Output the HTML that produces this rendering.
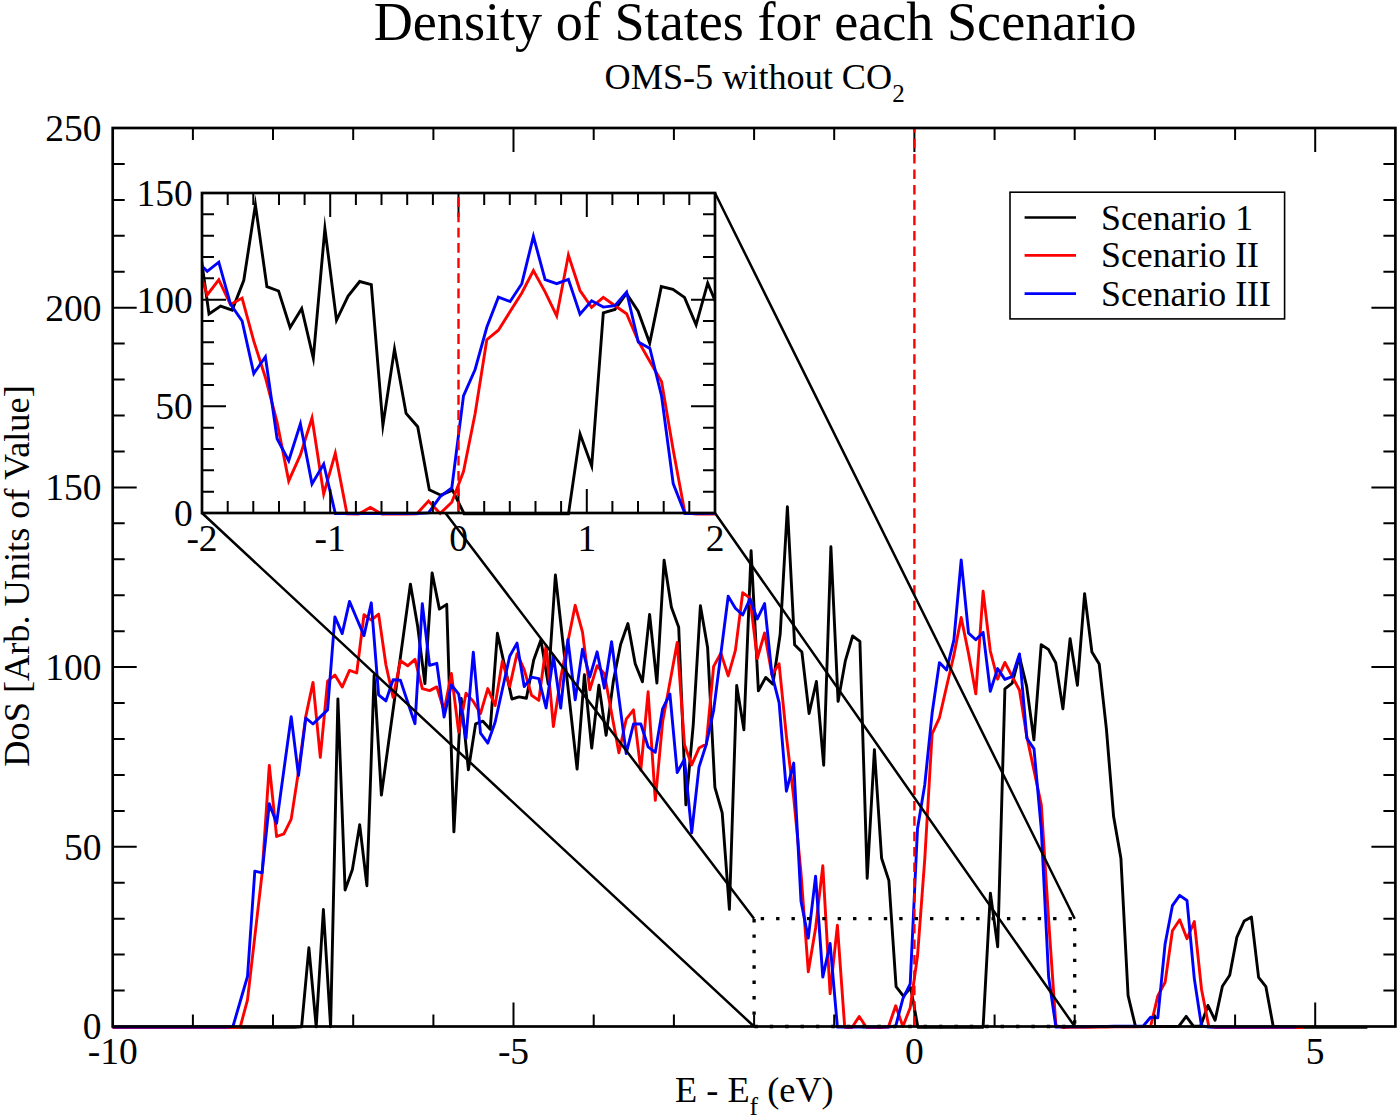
<!DOCTYPE html><html><head><meta charset="utf-8"><style>html,body{margin:0;padding:0;background:#fff;}</style></head><body><svg width="1400" height="1118" viewBox="0 0 1400 1118" style="display:block">
<defs>
<clipPath id="cm"><rect x="112.7" y="128.0" width="1282.7" height="901.5"/></clipPath>
<clipPath id="ci"><rect x="202.0" y="193.0" width="513.0" height="323.0"/></clipPath>
</defs>
<rect width="1400" height="1118" fill="#fff"/>
<polyline points="69.6,1027.2 76.9,1027.2 84.2,1027.2 91.4,1027.2 98.6,1027.2 105.9,1027.2 113.1,1027.2 120.4,1027.2 127.7,1027.2 134.9,1027.2 142.2,1027.2 149.4,1027.2 156.6,1027.2 163.9,1027.2 171.2,1027.2 178.4,1027.2 185.7,1027.2 192.9,1027.2 200.1,1027.2 207.4,1027.2 214.7,1027.2 221.9,1027.2 229.2,1027.2 236.4,1027.2 243.6,1027.2 250.9,1027.2 258.2,1027.2 265.4,1027.2 272.7,1027.2 279.9,1027.2 287.1,1027.2 294.4,1027.2 301.6,1026.8 308.9,947.8 316.2,1026.8 323.4,909.5 330.6,1026.8 337.9,698.9 345.1,890.0 352.4,869.6 359.7,824.8 366.9,885.7 374.1,675.2 381.4,795.1 388.6,742.4 395.9,689.7 403.2,636.9 410.4,584.1 417.7,626.6 424.9,683.6 432.1,572.9 439.4,609.1 446.7,604.4 453.9,831.9 461.2,698.4 468.4,769.9 475.6,723.9 482.9,721.2 490.2,729.3 497.4,633.3 504.7,666.1 511.9,699.0 519.1,696.9 526.4,698.2 533.7,660.0 540.9,639.9 548.2,684.0 555.4,575.0 562.6,639.7 569.9,704.4 577.1,769.1 584.4,674.8 591.7,748.0 598.9,685.1 606.1,735.4 613.4,680.8 620.6,644.5 627.9,623.5 635.2,663.7 642.4,681.8 649.6,614.4 656.9,683.0 664.1,560.2 671.4,607.2 678.7,627.3 685.9,804.9 693.2,725.3 700.4,605.8 707.6,647.4 714.9,787.4 722.2,812.9 729.4,909.4 736.7,685.4 743.9,729.7 751.1,550.8 758.4,690.8 765.7,677.4 772.9,684.1 780.2,634.0 787.4,506.8 794.6,644.7 801.9,652.1 809.1,713.5 816.4,681.5 823.7,765.2 830.9,546.8 838.1,701.4 845.4,660.6 852.6,636.0 859.9,641.3 867.2,878.4 874.4,749.7 881.6,858.3 888.9,880.6 896.1,986.7 903.4,996.1 910.7,987.7 917.9,1027.2 925.1,1027.2 932.4,1027.2 939.6,1027.2 946.9,1027.2 954.2,1027.2 961.4,1027.2 968.7,1027.2 975.9,1027.2 983.1,1027.2 990.4,893.1 997.7,946.8 1004.9,688.9 1012.2,683.1 1019.4,656.3 1026.6,686.1 1033.9,739.8 1041.2,644.7 1048.4,649.4 1055.7,662.8 1062.9,708.9 1070.1,638.7 1077.4,685.2 1084.6,593.6 1091.9,652.0 1099.2,664.0 1106.4,728.9 1113.6,816.6 1120.9,858.3 1128.1,995.6 1135.4,1026.2 1142.7,1026.5 1149.9,1026.5 1157.1,1026.5 1164.4,1026.5 1171.6,1026.5 1178.9,1026.2 1186.2,1016.4 1193.4,1026.2 1200.6,1026.2 1207.9,1005.4 1215.1,1020.3 1222.4,986.3 1229.7,975.3 1236.9,937.1 1244.2,921.0 1251.4,916.9 1258.6,977.3 1265.9,986.7 1273.2,1026.3 1280.4,1027.2 1287.7,1027.2 1294.9,1027.2 1302.1,1027.2 1309.4,1027.2 1316.7,1027.2 1323.9,1027.2 1331.2,1027.2 1338.4,1027.2 1345.6,1027.2 1352.9,1027.2 1360.1,1027.2 1367.4,1027.2" fill="none" stroke="#000" stroke-width="2.9" stroke-linejoin="round" clip-path="url(#cm)"/>
<polyline points="65.4,1027.5 72.7,1027.5 80.0,1027.5 87.3,1027.5 94.6,1027.5 101.8,1027.5 109.1,1027.5 116.4,1027.5 123.7,1027.5 131.0,1027.5 138.2,1027.5 145.5,1027.5 152.8,1027.5 160.1,1027.5 167.4,1027.5 174.7,1027.5 181.9,1027.5 189.2,1027.5 196.5,1027.5 203.8,1027.5 211.1,1027.5 218.4,1027.5 225.6,1027.5 232.9,1027.5 240.2,1027.1 247.5,999.9 254.8,936.6 262.1,873.3 269.3,765.4 276.6,836.5 283.9,833.8 291.2,819.1 298.5,771.4 305.8,716.4 313.0,682.4 320.3,757.3 327.6,681.1 334.9,675.0 342.2,687.1 349.5,670.4 356.7,673.0 364.0,614.7 371.3,620.1 378.6,614.1 385.9,664.8 393.1,697.4 400.4,660.8 407.7,665.8 415.0,659.4 422.3,688.6 429.6,690.6 436.8,686.9 444.1,710.8 451.4,673.5 458.7,732.2 466.0,693.3 473.3,701.4 480.5,713.5 487.8,688.6 495.1,705.4 502.4,661.1 509.7,686.6 517.0,653.7 524.2,669.7 531.5,695.2 538.8,700.4 546.1,645.5 553.4,726.5 560.7,677.7 567.9,641.5 575.2,605.3 582.5,632.1 589.8,689.8 597.1,665.7 604.4,673.7 611.6,713.2 618.9,752.7 626.2,719.2 633.5,709.9 640.8,770.2 648.1,691.8 655.3,800.4 662.6,722.0 669.9,682.5 677.2,642.4 684.5,744.8 691.7,764.9 699.0,748.1 706.3,744.1 713.6,666.5 720.9,653.1 728.2,675.9 735.4,650.4 742.7,592.7 750.0,598.1 757.3,658.5 764.6,633.0 771.9,674.6 779.1,663.8 786.4,736.4 793.7,797.5 801.0,873.0 808.3,971.8 815.6,927.9 822.8,865.8 830.1,993.7 837.4,925.3 844.7,1027.2 852.0,1027.5 859.2,1016.5 866.5,1027.5 873.8,1027.5 881.1,1027.5 888.4,1027.0 895.7,1005.8 902.9,1026.6 910.2,1007.7 917.5,956.1 924.8,858.6 932.1,733.9 939.4,717.8 946.6,686.5 953.9,655.2 961.2,617.5 968.5,653.4 975.8,693.8 983.1,591.3 990.3,651.0 997.6,679.2 1004.9,662.4 1012.2,676.5 1019.5,690.2 1026.8,736.4 1034.0,770.5 1041.3,804.7 1048.6,919.7 1055.9,1025.7 1063.2,1027.5 1070.5,1027.4 1077.7,1027.3 1085.0,1027.2 1092.3,1027.2 1099.6,1027.1 1106.9,1027.0 1114.1,1026.9 1121.4,1026.8 1128.7,1026.7 1136.0,1026.7 1143.3,1026.6 1150.6,1026.5 1157.8,995.9 1165.1,982.2 1172.4,930.7 1179.7,919.8 1187.0,938.7 1194.3,921.5 1201.5,989.2 1208.8,1026.5 1216.1,1027.5 1223.4,1027.5 1230.7,1027.5 1238.0,1027.5 1245.2,1027.5 1252.5,1027.5 1259.8,1027.5 1267.1,1027.5 1274.4,1027.5 1281.6,1027.5 1288.9,1027.5 1296.2,1027.5 1303.5,1027.5" fill="none" stroke="#f00" stroke-width="2.9" stroke-linejoin="round" clip-path="url(#cm)"/>
<polyline points="65.4,1027.0 72.7,1027.0 80.0,1027.0 87.3,1027.0 94.6,1027.0 101.8,1027.0 109.1,1027.0 116.4,1027.0 123.7,1027.0 131.0,1027.0 138.2,1027.0 145.5,1027.0 152.8,1027.0 160.1,1027.0 167.4,1027.0 174.7,1027.0 181.9,1027.0 189.2,1027.0 196.5,1027.0 203.8,1027.0 211.1,1027.0 218.4,1027.0 225.6,1027.0 232.9,1026.6 240.2,1001.5 247.5,976.5 254.8,871.1 262.1,872.8 269.3,803.8 276.6,823.3 283.9,769.9 291.2,716.6 298.5,775.6 305.8,718.0 313.0,724.0 320.3,716.9 327.6,709.9 334.9,616.9 342.2,633.6 349.5,601.4 356.7,618.5 364.0,635.6 371.3,602.8 378.6,694.8 385.9,700.9 393.1,679.7 400.4,680.1 407.7,702.2 415.0,723.7 422.3,603.6 429.6,665.3 436.8,663.3 444.1,717.0 451.4,684.8 458.7,694.2 466.0,738.4 473.3,652.2 480.5,733.1 487.8,743.1 495.1,722.3 502.4,689.3 509.7,656.2 517.0,643.1 524.2,686.6 531.5,677.2 538.8,678.6 546.1,708.0 553.4,655.8 560.7,708.0 567.9,639.7 575.2,699.9 582.5,649.1 589.8,677.2 597.1,651.8 604.4,688.1 611.6,641.8 618.9,697.6 626.2,753.6 633.5,724.0 640.8,724.0 648.1,746.8 655.3,752.3 662.6,708.8 669.9,694.0 677.2,772.5 684.5,759.1 691.7,832.7 699.0,767.1 706.3,744.3 713.6,710.8 720.9,653.5 728.2,596.3 735.4,608.3 742.7,615.0 750.0,598.9 757.3,619.0 764.6,603.6 771.9,674.3 779.1,702.7 786.4,791.2 793.7,763.1 801.0,901.2 808.3,938.2 815.6,876.1 822.8,977.1 830.1,943.5 837.4,1027.0 844.7,1027.0 852.0,1027.0 859.2,1027.0 866.5,1027.0 873.8,1027.0 881.1,1027.0 888.4,1027.0 895.7,1026.1 902.9,998.6 910.2,983.8 917.5,828.7 924.8,784.4 932.1,713.3 939.4,662.6 946.6,670.0 953.9,639.8 961.2,560.0 968.5,633.1 975.8,639.8 983.1,632.4 990.3,691.3 997.6,668.6 1004.9,679.4 1012.2,676.7 1019.5,653.9 1026.8,738.2 1034.0,748.9 1041.3,829.3 1048.6,976.7 1055.9,1027.0 1063.2,1026.9 1070.5,1026.8 1077.7,1026.7 1085.0,1026.7 1092.3,1026.6 1099.6,1026.5 1106.9,1026.4 1114.1,1026.3 1121.4,1026.2 1128.7,1026.2 1136.0,1026.1 1143.3,1026.0 1150.6,1017.2 1157.8,1017.9 1165.1,943.9 1172.4,905.7 1179.7,895.4 1187.0,900.5 1194.3,978.6 1201.5,1026.0 1208.8,1027.0 1216.1,1027.0 1223.4,1027.0 1230.7,1027.0 1238.0,1027.0 1245.2,1027.0 1252.5,1027.0 1259.8,1027.0 1267.1,1027.0 1274.4,1027.0 1281.6,1027.0 1288.9,1027.0 1296.2,1027.0" fill="none" stroke="#00f" stroke-width="2.9" stroke-linejoin="round" clip-path="url(#cm)"/>
<path d="M192.9,1026.5v-12M192.9,128.0v12M273.0,1026.5v-12M273.0,128.0v12M353.2,1026.5v-12M353.2,128.0v12M433.4,1026.5v-12M433.4,128.0v12M513.5,1026.5v-24M513.5,128.0v24M593.7,1026.5v-12M593.7,128.0v12M673.9,1026.5v-12M673.9,128.0v12M754.1,1026.5v-12M754.1,128.0v12M834.2,1026.5v-12M834.2,128.0v12M914.4,1026.5v-24M914.4,128.0v24M994.6,1026.5v-12M994.6,128.0v12M1074.7,1026.5v-12M1074.7,128.0v12M1154.9,1026.5v-12M1154.9,128.0v12M1235.1,1026.5v-12M1235.1,128.0v12M1315.2,1026.5v-24M1315.2,128.0v24M112.7,990.6h12M1395.4,990.6h-12M112.7,954.6h12M1395.4,954.6h-12M112.7,918.7h12M1395.4,918.7h-12M112.7,882.7h12M1395.4,882.7h-12M112.7,846.8h24M1395.4,846.8h-24M112.7,810.9h12M1395.4,810.9h-12M112.7,774.9h12M1395.4,774.9h-12M112.7,739.0h12M1395.4,739.0h-12M112.7,703.0h12M1395.4,703.0h-12M112.7,667.1h24M1395.4,667.1h-24M112.7,631.2h12M1395.4,631.2h-12M112.7,595.2h12M1395.4,595.2h-12M112.7,559.3h12M1395.4,559.3h-12M112.7,523.3h12M1395.4,523.3h-12M112.7,487.4h24M1395.4,487.4h-24M112.7,451.5h12M1395.4,451.5h-12M112.7,415.5h12M1395.4,415.5h-12M112.7,379.6h12M1395.4,379.6h-12M112.7,343.6h12M1395.4,343.6h-12M112.7,307.7h24M1395.4,307.7h-24M112.7,271.8h12M1395.4,271.8h-12M112.7,235.8h12M1395.4,235.8h-12M112.7,199.9h12M1395.4,199.9h-12M112.7,163.9h12M1395.4,163.9h-12" stroke="#000" stroke-width="2" fill="none"/>
<line x1="914.4" y1="128.0" x2="914.4" y2="1026.5" stroke="#f00" stroke-width="2.4" stroke-dasharray="9.5 5.9" stroke-dashoffset="4.7"/>
<rect x="112.7" y="128.0" width="1282.7" height="898.5" fill="none" stroke="#000" stroke-width="2.7"/>
<path d="M754.1,918.7H1074.7V1026.5H754.1Z" fill="none" stroke="#000" stroke-width="3.3" stroke-dasharray="3.4 11.99" stroke-dashoffset="8.8"/>
<path d="M202.0,193.0L754.1,918.7M715.0,193.0L1074.7,918.7M202.0,513.0L754.1,1026.5M715.0,513.0L1074.7,1026.5" stroke="#000" stroke-width="2.5" fill="none"/>
<rect x="202.0" y="193.0" width="513.0" height="320.0" fill="#fff"/>
<polyline points="174.2,310.8 185.8,337.1 197.4,230.9 209.0,314.0 220.6,306.1 232.2,310.1 243.8,280.3 255.4,204.8 266.9,286.7 278.6,291.0 290.1,327.5 301.7,308.5 313.3,358.2 324.9,228.5 336.5,320.3 348.1,296.1 359.7,281.5 371.3,284.6 382.9,425.4 394.5,349.0 406.1,413.4 417.7,426.7 429.3,489.7 440.9,495.2 452.5,490.2 464.1,513.7 475.7,513.7 487.3,513.7 498.9,513.7 510.5,513.7 522.1,513.7 533.7,513.7 545.3,513.7 556.9,513.7 568.5,513.7 580.1,434.1 591.7,466.0 603.3,312.9 614.9,309.5 626.5,293.5 638.1,311.2 649.7,343.1 661.3,286.6 672.9,289.4 684.5,297.4 696.1,324.8 707.7,283.1 719.3,310.7 730.9,256.3 742.5,291.0" fill="none" stroke="#000" stroke-width="2.9" stroke-linejoin="miter" stroke-miterlimit="10" clip-path="url(#ci)"/>
<polyline points="172.2,290.2 183.9,255.9 195.5,259.1 207.2,294.9 218.8,279.8 230.5,304.5 242.1,298.1 253.8,341.2 265.4,377.5 277.1,422.3 288.7,480.9 300.4,454.9 312.0,418.0 323.7,493.9 335.3,453.3 347.0,513.9 358.6,514.0 370.3,507.5 381.9,514.0 393.6,514.0 405.3,514.0 416.9,513.7 428.5,501.1 440.2,513.4 451.8,502.3 463.5,471.6 475.1,413.7 486.8,339.7 498.4,330.2 510.1,311.6 521.8,293.0 533.4,270.6 545.1,291.9 556.7,315.9 568.4,255.1 580.0,290.5 591.6,307.3 603.3,297.3 615.0,305.7 626.6,313.8 638.3,341.2 649.9,361.5 661.6,381.7 673.2,450.0 684.9,512.9 696.5,514.0 708.2,514.0 719.8,513.9 731.5,513.9 743.1,513.8" fill="none" stroke="#f00" stroke-width="2.9" stroke-linejoin="miter" stroke-miterlimit="10" clip-path="url(#ci)"/>
<polyline points="172.2,265.0 183.9,269.0 195.5,259.4 207.2,271.3 218.8,262.2 230.5,304.1 242.1,321.0 253.8,373.6 265.4,356.8 277.1,438.8 288.7,460.8 300.4,423.9 312.0,483.9 323.7,464.0 335.3,513.5 347.0,513.5 358.6,513.5 370.3,513.5 381.9,513.5 393.6,513.5 405.3,513.5 416.9,513.5 428.5,512.9 440.2,496.6 451.8,487.9 463.5,395.8 475.1,369.5 486.8,327.3 498.4,297.2 510.1,301.6 521.8,283.7 533.4,236.3 545.1,279.7 556.7,283.7 568.4,279.3 580.0,314.2 591.6,300.8 603.3,307.1 615.0,305.6 626.6,292.0 638.3,342.1 649.9,348.4 661.6,396.2 673.2,483.6 684.9,513.5 696.5,513.5 708.2,513.4 719.8,513.4 731.5,513.3 743.1,513.2" fill="none" stroke="#00f" stroke-width="2.9" stroke-linejoin="miter" stroke-miterlimit="10" clip-path="url(#ci)"/>
<path d="M227.7,513.0v-12M227.7,193.0v12M253.3,513.0v-12M253.3,193.0v12M279.0,513.0v-12M279.0,193.0v12M304.6,513.0v-12M304.6,193.0v12M330.2,513.0v-24M330.2,193.0v24M355.9,513.0v-12M355.9,193.0v12M381.5,513.0v-12M381.5,193.0v12M407.2,513.0v-12M407.2,193.0v12M432.9,513.0v-12M432.9,193.0v12M458.5,513.0v-24M458.5,193.0v24M484.2,513.0v-12M484.2,193.0v12M509.8,513.0v-12M509.8,193.0v12M535.5,513.0v-12M535.5,193.0v12M561.1,513.0v-12M561.1,193.0v12M586.8,513.0v-24M586.8,193.0v24M612.4,513.0v-12M612.4,193.0v12M638.0,513.0v-12M638.0,193.0v12M663.7,513.0v-12M663.7,193.0v12M689.3,513.0v-12M689.3,193.0v12M202.0,491.7h12M715.0,491.7h-12M202.0,470.3h12M715.0,470.3h-12M202.0,449.0h12M715.0,449.0h-12M202.0,427.7h12M715.0,427.7h-12M202.0,406.3h24M715.0,406.3h-24M202.0,385.0h12M715.0,385.0h-12M202.0,363.7h12M715.0,363.7h-12M202.0,342.3h12M715.0,342.3h-12M202.0,321.0h12M715.0,321.0h-12M202.0,299.7h24M715.0,299.7h-24M202.0,278.3h12M715.0,278.3h-12M202.0,257.0h12M715.0,257.0h-12M202.0,235.7h12M715.0,235.7h-12M202.0,214.3h12M715.0,214.3h-12" stroke="#000" stroke-width="2" fill="none"/>
<line x1="458.5" y1="193.0" x2="458.5" y2="513.0" stroke="#f00" stroke-width="2.4" stroke-dasharray="9.8 5.4" stroke-dashoffset="10.9"/>
<rect x="202.0" y="193.0" width="513.0" height="320.0" fill="none" stroke="#000" stroke-width="2.7"/>
<rect x="1010" y="192.2" width="274.6" height="126.7" fill="#fff" stroke="#000" stroke-width="1.6"/>
<line x1="1024.6" y1="217.5" x2="1076" y2="217.5" stroke="#000" stroke-width="2.6"/>
<text x="1101" y="229.5" font-family='"Liberation Serif", serif' font-size="35.8">Scenario 1</text>
<line x1="1024.6" y1="255.4" x2="1076" y2="255.4" stroke="#f00" stroke-width="2.6"/>
<text x="1101" y="267.4" font-family='"Liberation Serif", serif' font-size="35.8">Scenario II</text>
<line x1="1024.6" y1="293.6" x2="1076" y2="293.6" stroke="#00f" stroke-width="2.6"/>
<text x="1101" y="305.6" font-family='"Liberation Serif", serif' font-size="35.8">Scenario III</text>
<text x="101.5" y="1039.3" font-family='"Liberation Serif", serif' font-size="37.5" text-anchor="end" >0</text>
<text x="101.5" y="859.6" font-family='"Liberation Serif", serif' font-size="37.5" text-anchor="end" >50</text>
<text x="101.5" y="679.9" font-family='"Liberation Serif", serif' font-size="37.5" text-anchor="end" >100</text>
<text x="101.5" y="500.2" font-family='"Liberation Serif", serif' font-size="37.5" text-anchor="end" >150</text>
<text x="101.5" y="320.5" font-family='"Liberation Serif", serif' font-size="37.5" text-anchor="end" >200</text>
<text x="101.5" y="140.8" font-family='"Liberation Serif", serif' font-size="37.5" text-anchor="end" >250</text>
<text x="112.7" y="1064.4" font-family='"Liberation Serif", serif' font-size="37.5" text-anchor="middle" >-10</text>
<text x="513.5" y="1064.4" font-family='"Liberation Serif", serif' font-size="37.5" text-anchor="middle" >-5</text>
<text x="914.4" y="1064.4" font-family='"Liberation Serif", serif' font-size="37.5" text-anchor="middle" >0</text>
<text x="1315.2" y="1064.4" font-family='"Liberation Serif", serif' font-size="37.5" text-anchor="middle" >5</text>
<text x="192.8" y="525.8" font-family='"Liberation Serif", serif' font-size="37.5" text-anchor="end" >0</text>
<text x="192.8" y="419.1" font-family='"Liberation Serif", serif' font-size="37.5" text-anchor="end" >50</text>
<text x="192.8" y="312.5" font-family='"Liberation Serif", serif' font-size="37.5" text-anchor="end" >100</text>
<text x="192.8" y="205.8" font-family='"Liberation Serif", serif' font-size="37.5" text-anchor="end" >150</text>
<text x="202.0" y="551.0" font-family='"Liberation Serif", serif' font-size="37.5" text-anchor="middle" >-2</text>
<text x="330.2" y="551.0" font-family='"Liberation Serif", serif' font-size="37.5" text-anchor="middle" >-1</text>
<text x="458.5" y="551.0" font-family='"Liberation Serif", serif' font-size="37.5" text-anchor="middle" >0</text>
<text x="586.8" y="551.0" font-family='"Liberation Serif", serif' font-size="37.5" text-anchor="middle" >1</text>
<text x="715.0" y="551.0" font-family='"Liberation Serif", serif' font-size="37.5" text-anchor="middle" >2</text>
<text x="755.1" y="40.0" font-family='"Liberation Serif", serif' font-size="54.2" text-anchor="middle" >Density of States for each Scenario</text>
<text x="604.6" y="88.6" font-family='"Liberation Serif", serif' font-size="36.2">OMS-5 without CO<tspan font-size="25" dy="13.3">2</tspan></text>
<text x="675" y="1101.8" font-family='"Liberation Serif", serif' font-size="36.3">E - E<tspan font-size="25.6" dy="13.2">f</tspan><tspan dy="-13.2"> (eV)</tspan></text>
<text transform="translate(28.9,576) rotate(-90)" font-family='"Liberation Serif", serif' font-size="36.3" text-anchor="middle">DoS [Arb. Units of Value]</text>
</svg></body></html>
